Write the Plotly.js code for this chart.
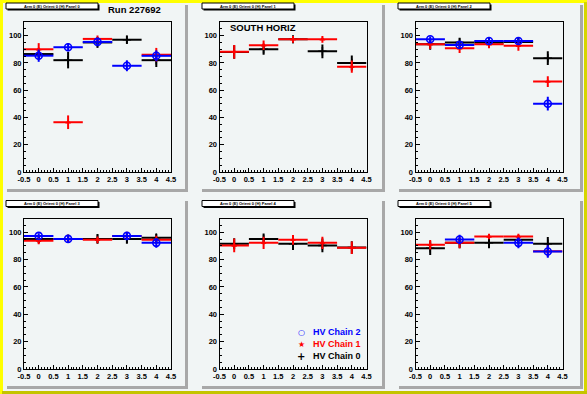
<!DOCTYPE html>
<html><head><meta charset="utf-8">
<script src="https://cdn.plot.ly/plotly-3.0.1.min.js"></script>
<style>html,body{margin:0;padding:0;background:#f1f5f5;}#chart{width:587px;height:394px;}</style>
</head><body><div id="chart"></div>
<script>
// ---------------- data ----------------
const categories = [0, 1, 2, 3, 4];
const binHalfWidth = 0.5;
const panelTitles = [
  'Arm 0 (E) Orient 0 (H) Panel 0', 'Arm 0 (E) Orient 0 (H) Panel 1', 'Arm 0 (E) Orient 0 (H) Panel 2',
  'Arm 0 (E) Orient 0 (H) Panel 3', 'Arm 0 (E) Orient 0 (H) Panel 4', 'Arm 0 (E) Orient 0 (H) Panel 5'
];
const seriesNames = ['HV Chain 0', 'HV Chain 1', 'HV Chain 2'];
const xTickVals = [-0.5, 0, 0.5, 1, 1.5, 2, 2.5, 3, 3.5, 4, 4.5];
const xTickText = ['-0.5', '0', '0.5', '1', '1.5', '2', '2.5', '3', '3.5', '4', '4.5'];
const yTickVals = [0, 20, 40, 60, 80, 100];
const yTickText = ['0', '20', '40', '60', '80', '100'];

// HV Chain 0 (black)
const chain0Vals = [
  [86.5, 82, 95, 97, 82],
  [88, 90, 97.3, 88.5, 80],
  [93.7, 95, 95, 95.4, 83.5],
  [95, 95.1, 95.1, 95.1, 95.9],
  [91.5, 95.1, 91.5, 90.3, 88.8],
  [88.3, 92.2, 92.2, 94.4, 91.5]
];
const chain0Errs = [
  [4, 6, 4, 3, 5],
  [5, 4, 2.5, 5, 5.5],
  [4, 3.5, 3.5, 3.5, 5],
  [3, 3, 3.5, 3.5, 3],
  [4, 4, 4.5, 5, 4.5],
  [5, 4, 4, 3.5, 5]
];
// HV Chain 1 (red)
const chain1Vals = [
  [90, 36.5, 97.6, null, 86],
  [88.1, 93, 97.3, 97.3, 77.2],
  [93.7, 90.8, 93.7, 92.5, 66.3],
  [93.7, 95.1, 94.4, 97.3, 94.4],
  [90.3, 92.2, 94.4, 92.2, 88.6],
  [90.8, 92.2, 96.8, 96.8, 86]
];
const chain1Errs = [
  [4.5, 5, 2.5, null, 5],
  [5, 3.5, 2.5, 2.5, 4.5],
  [3.5, 3.5, 3, 3.5, 4],
  [2.5, 3, 2.5, 3, 3],
  [5, 4.5, 3.5, 4.5, 4.5],
  [3.5, 4, 2, 2, 4]
];
// HV Chain 2 (blue)
const chain2Vals = [
  [85.3, 91.5, 95.4, 77.9, 85.2],
  [null, null, null, null, null],
  [97.3, 93.2, 96.1, 96.1, 50.1],
  [97.3, 95.1, null, 97.3, 92.2],
  [null, null, null, null, null],
  [null, 94.7, null, 92.2, 85.9]
];
const chain2Errs = [
  [4.5, 3, 3, 4, 4],
  [null, null, null, null, null],
  [2, 2.5, 2, 2, 5],
  [2, 2.5, null, 2.5, 3.5],
  [null, null, null, null, null],
  [null, 3.5, null, 4, 4.5]
];

// ---------------- layout geometry (pixels) ----------------
const W = 587, H = 394;
const X = p => p / W, Y = p => 1 - p / H;
const FONT = 'Liberation Sans, Arial, Helvetica, sans-serif';
const PALE = '#f1f5f5';
const frameCols = [[24, 171], [219.5, 366.5], [415.5, 562.5]];
const frameRows = [[22, 172], [218.5, 369]];
const padCols = [[5, 188], [200, 385], [397, 583]];
const padRows = [[3, 192], [199, 389]];
const boxCols = [[6, 98], [202, 294], [398, 490]];
const boxRows = [[3, 9], [200.5, 206.5]];

const colors = ['#000000', '#ff0000', '#0000ff'];
const markers = [
  {symbol: 'cross-thin', size: 6, color: '#000000', line: {width: 1.5, color: '#000000'}},
  {symbol: 'triangle-up', size: 5, color: '#ff0000', line: {width: 0}},
  {symbol: 'circle-open', size: 7, color: '#0000ff', line: {width: 1.6, color: '#0000ff'}}
];
const vals = [chain0Vals, chain1Vals, chain2Vals];
const errs = [chain0Errs, chain1Errs, chain2Errs];

const traces = [];
const layout = {
  width: W, height: H, margin: {l: 0, r: 0, t: 0, b: 0},
  paper_bgcolor: PALE, plot_bgcolor: 'rgba(0,0,0,0)',
  showlegend: false, shapes: [], annotations: [],
  font: {family: FONT, color: '#000'}
};

for (let p = 0; p < 6; p++) {
  const col = p % 3, row = Math.floor(p / 3);
  const n = p + 1;
  const xa = 'xaxis' + (n === 1 ? '' : n), ya = 'yaxis' + (n === 1 ? '' : n);
  const xr = 'x' + (n === 1 ? '' : n), yr = 'y' + (n === 1 ? '' : n);
  const tf = {family: FONT, size: 7.5, weight: 'bold', color: '#000'};
  layout[xa] = {
    domain: [X(frameCols[col][0]), X(frameCols[col][1])], anchor: yr,
    range: [-0.5, 4.5], tickmode: 'array', tickvals: xTickVals, ticktext: xTickText,
    ticks: 'inside', ticklen: 4, tickwidth: 1, tickcolor: '#000',
    minor: {tickmode: 'linear', tick0: -0.5, dtick: 0.1, ticks: 'inside', ticklen: 2, tickwidth: 1, tickcolor: '#000', showgrid: false},
    showline: true, mirror: true, linecolor: '#000', linewidth: 1,
    showgrid: false, zeroline: false, tickfont: tf, fixedrange: true
  };
  layout[ya] = {
    domain: [Y(frameRows[row][1]), Y(frameRows[row][0])], anchor: xr,
    range: [0, 110], tickmode: 'array', tickvals: yTickVals, ticktext: yTickText,
    ticks: 'inside', ticklen: 4, tickwidth: 1, tickcolor: '#000',
    minor: {tickmode: 'linear', tick0: 0, dtick: 5, ticks: 'inside', ticklen: 2, tickwidth: 1, tickcolor: '#000', showgrid: false},
    showline: true, mirror: true, linecolor: '#000', linewidth: 1,
    showgrid: false, zeroline: false, tickfont: tf, fixedrange: true
  };
  for (let c = 0; c < 3; c++) {
    traces.push({
      type: 'scatter', mode: 'markers', name: seriesNames[c],
      x: categories, y: vals[c][p], xaxis: xr, yaxis: yr,
      error_x: {type: 'constant', value: binHalfWidth, color: colors[c], thickness: 2, width: 0},
      error_y: {type: 'data', array: errs[c][p], color: colors[c], thickness: 2, width: 0},
      marker: markers[c], hoverinfo: 'skip', cliponaxis: true
    });
  }
  // pad shadow & pad
  const pc = padCols[col], pr = padRows[row];
  layout.shapes.push({type: 'rect', xref: 'paper', yref: 'paper', layer: 'below',
    x0: X(pc[0] + 2), x1: X(pc[1]), y0: Y(pr[1]), y1: Y(pr[0] + 2), fillcolor: '#a8a8a8', line: {width: 0}});
  layout.shapes.push({type: 'rect', xref: 'paper', yref: 'paper', layer: 'below',
    x0: X(pc[0]), x1: X(pc[1] - 3), y0: Y(pr[1] - 3), y1: Y(pr[0]), fillcolor: PALE, line: {width: 0}});
  // title box
  const bc = boxCols[col], br = boxRows[row];
  layout.shapes.push({type: 'rect', xref: 'paper', yref: 'paper', layer: 'above',
    x0: X(bc[0] + 1.5), x1: X(bc[1] + 1.5), y0: Y(br[1] + 1.5), y1: Y(br[0] + 1.5), fillcolor: '#000', line: {width: 0}});
  layout.shapes.push({type: 'rect', xref: 'paper', yref: 'paper', layer: 'above',
    x0: X(bc[0]), x1: X(bc[1]), y0: Y(br[1]), y1: Y(br[0]), fillcolor: '#fff', line: {width: 1, color: '#000'}});
  layout.annotations.push({xref: 'paper', yref: 'paper', x: X((bc[0] + bc[1]) / 2), y: Y((br[0] + br[1]) / 2),
    xanchor: 'center', yanchor: 'middle', showarrow: false, text: panelTitles[p],
    font: {family: FONT, size: 4, weight: 'bold', color: '#000'}});
}

// canvas yellow bevel border
layout.shapes.push({type: 'rect', xref: 'paper', yref: 'paper', layer: 'below', x0: 0, x1: 1, y0: Y(3), y1: 1, fillcolor: '#ffff00', line: {width: 0}});
layout.shapes.push({type: 'rect', xref: 'paper', yref: 'paper', layer: 'below', x0: 0, x1: X(3), y0: 0, y1: 1, fillcolor: '#ffff00', line: {width: 0}});
layout.shapes.push({type: 'rect', xref: 'paper', yref: 'paper', layer: 'below', x0: X(584), x1: 1, y0: 0, y1: Y(2), fillcolor: '#d6d600', line: {width: 0}});
layout.shapes.push({type: 'rect', xref: 'paper', yref: 'paper', layer: 'below', x0: X(2), x1: 1, y0: 0, y1: Y(391), fillcolor: '#c4c400', line: {width: 0}});

// texts
layout.annotations.push({xref: 'paper', yref: 'paper', x: X(106), y: Y(9.5), xanchor: 'left', yanchor: 'middle',
  showarrow: false, text: 'Run 227692', font: {family: FONT, size: 9.5, weight: 'bold', color: '#000'}});
layout.annotations.push({xref: 'paper', yref: 'paper', x: X(227.5), y: Y(27.5), xanchor: 'left', yanchor: 'middle',
  showarrow: false, text: 'SOUTH HORIZ', font: {family: FONT, size: 9.5, weight: 'bold', color: '#000'}});

// legend (manual, inside panel 4)
const legRows = [332, 344, 356];
const legSymbols = ['\u25CB', '\u2605', '+'];
const legOrder = [2, 1, 0];
legOrder.forEach((c, i) => {
  layout.annotations.push({xref: 'paper', yref: 'paper', x: X(301), y: Y(legRows[i]), xanchor: 'center', yanchor: 'middle',
    showarrow: false, text: legSymbols[i], font: {family: 'DejaVu Sans', size: c === 0 ? 10 : 8, weight: 'bold', color: colors[c]}});
  layout.annotations.push({xref: 'paper', yref: 'paper', x: X(311), y: Y(legRows[i]), xanchor: 'left', yanchor: 'middle',
    showarrow: false, text: seriesNames[c], font: {family: FONT, size: 9, weight: 'bold', color: colors[c]}});
});

Plotly.newPlot('chart', traces, layout, {staticPlot: true, displayModeBar: false});
</script></body></html>
